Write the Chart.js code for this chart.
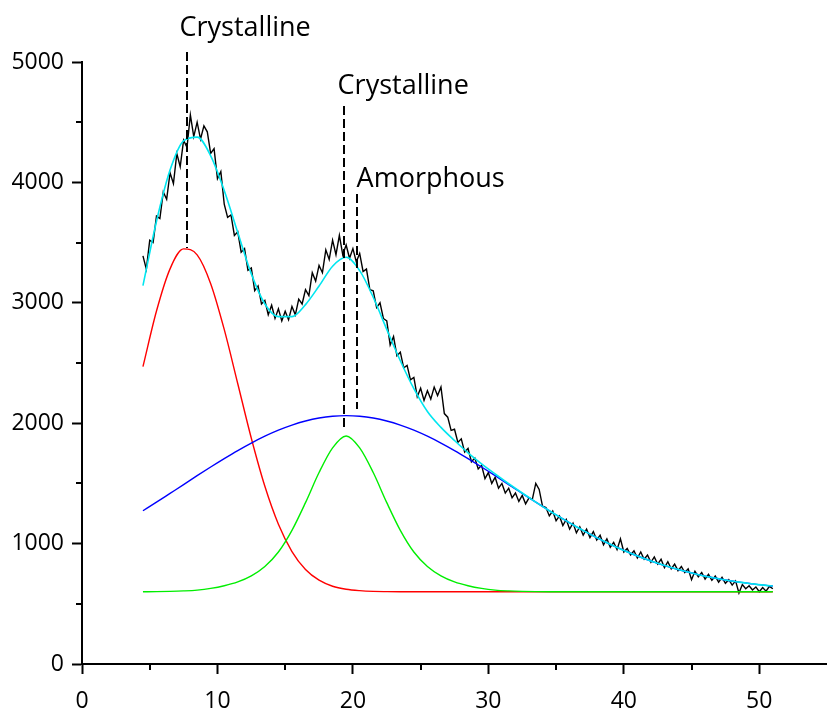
<!DOCTYPE html>
<html lang="en">
  <head>
    <meta charset="UTF-8" />
    <title>XRD peak fit</title>
    <style>
      html, body { margin: 0; padding: 0; background: #fff; }
    </style>
  </head>
  <body>
    <canvas id="myChart" width="827" height="708"></canvas>

    <script src="https://cdn.jsdelivr.net/npm/chart.js@4.4.1/dist/chart.umd.min.js"></script>
    <script>
      // measured pattern: first x, step, then 4 points per unit of x
      const rawStart = 4.5;
      const rawStep = 0.25;
      const rawY = [
        3390, 3280,
        3520, 3500, 3720, 3700,
        3920, 3860, 4080, 3990,
        4240, 4130, 4350, 4290,
        4560, 4380, 4500, 4360,
        4470, 4420, 4240, 4280,
        4030, 4090, 3820, 3710,
        3730, 3560, 3590, 3420,
        3450, 3270, 3290, 3100,
        3140, 2990, 3020, 2900,
        2980, 2870, 2950, 2850,
        2930, 2860, 2970, 2900,
        3030, 2990, 3110, 3060,
        3250, 3180, 3310, 3250,
        3440, 3360, 3520, 3400,
        3560, 3400, 3480, 3370,
        3450, 3340, 3410, 3260,
        3280, 3110, 3100, 2960,
        3000, 2870, 2850, 2650,
        2720, 2560, 2590, 2460,
        2480, 2360, 2380, 2220,
        2290, 2190, 2270, 2200,
        2300, 2230, 2300, 2080,
        2050, 1940, 1950, 1840,
        1870, 1760, 1790, 1680,
        1710, 1620, 1650, 1540,
        1590, 1500, 1550, 1460,
        1500, 1420, 1460, 1380,
        1420, 1350, 1400, 1330,
        1380, 1370, 1500, 1450,
        1310, 1300, 1230, 1270,
        1190, 1230, 1150, 1200,
        1120, 1170, 1090, 1140,
        1070, 1120, 1050, 1100,
        1030, 1070, 990, 1040,
        970, 1010, 950, 1040,
        930, 960, 905, 940,
        880, 930, 870, 905,
        845, 890, 830, 870,
        800, 850, 790, 830,
        775, 810, 760, 790,
        700, 770, 725, 760,
        705, 745, 695, 730,
        680, 720, 670, 700,
        655, 690, 590, 660,
        625, 650, 615, 640,
        600, 635, 605, 645,
        625
      ];

      // fitted curves
      const fitX = [
        4.5, 5.5, 6.5, 7.5, 8.5, 9.5, 10.5, 11.5, 12.5, 13.5, 14.5, 15.5,
        16.5, 17.5, 18.5, 19.5, 20.5, 21.5, 22.5, 23.5, 24.5, 25.5, 26.5, 27.5,
        28.5, 29.5, 30.5, 31.5, 32.5, 33.5, 34.5, 35.5, 36.5, 37.5, 38.5, 39.5,
        40.5, 41.5, 42.5, 43.5, 44.5, 45.5, 46.5, 47.5, 48.5, 49.5, 50.5, 51
      ];
      const peak1 = [
        2470, 2932, 3282, 3448, 3398, 3159, 2779, 2328, 1875, 1476, 1161, 934,
        785, 696, 646, 621, 609, 603, 601, 600, 600, 600, 600, 600,
        600, 600, 600, 600, 600, 600, 600, 600, 600, 600, 600, 600,
        600, 600, 600, 600, 600, 600, 600, 600, 600, 600, 600, 600
      ];
      const peak2 = [
        600, 601, 603, 607, 614, 628, 650, 682, 732, 810, 930, 1110,
        1340, 1590, 1795, 1894, 1795, 1590, 1340, 1110, 930, 810, 732, 682,
        650, 628, 614, 607, 603, 601, 600, 600, 600, 600, 600, 600,
        600, 600, 600, 600, 600, 600, 600, 600, 600, 600, 600, 600
      ];
      const amorph = [
        1273, 1344, 1417, 1490, 1564, 1636, 1706, 1773, 1835, 1892, 1942, 1984,
        2018, 2043, 2058, 2063, 2058, 2043, 2018, 1984, 1942, 1892, 1835, 1773,
        1706, 1636, 1564, 1490, 1417, 1344, 1273, 1205, 1140, 1079, 1021, 968,
        920, 876, 836, 801, 770, 742, 718, 698, 680, 666, 653, 648
      ];
      const total = [
        3143, 3677, 4102, 4345, 4376, 4221, 3933, 3584, 3240, 2990, 2885, 2885,
        2985, 3139, 3304, 3378, 3267, 3046, 2779, 2519, 2287, 2097, 1965, 1856,
        1754, 1662, 1578, 1497, 1420, 1345, 1273, 1205, 1140, 1079, 1021, 968,
        920, 876, 836, 801, 770, 742, 718, 698, 680, 666, 653, 648
      ];

      const xMinor = [5, 15, 25, 35, 45];
      const yMinor = [500, 1500, 2500, 3500, 4500];

      // dashed markers and their labels
      const markX = [7.75, 19.37, 20.28];
      const markTop = [5083, 4635, 3904];
      const markBottom = [3455, 1960, 2118];
      const labelText = ["Crystalline", "Crystalline", "Amorphous"];
      const labelX = [7.2, 18.87, 20.27];
      const labelY = [5213, 4732, 3963];

      const toPoints = (xs, ys) => ys.map((v, i) => ({ x: xs[i], y: v }));
      const rawPoints = rawY.map((v, i) => ({ x: rawStart + i * rawStep, y: v }));

      const minorTicks = {
        id: "minorTicks",
        afterDraw(chart) {
          const { ctx, chartArea, scales } = chart;
          ctx.save();
          ctx.strokeStyle = "#000";
          ctx.lineWidth = 2;
          ctx.beginPath();
          xMinor.forEach((v) => {
            const p = Math.round(scales.x.getPixelForValue(v));
            ctx.moveTo(p, chartArea.bottom);
            ctx.lineTo(p, chartArea.bottom + 6);
          });
          yMinor.forEach((v) => {
            const p = Math.round(scales.y.getPixelForValue(v));
            ctx.moveTo(chartArea.left, p);
            ctx.lineTo(chartArea.left - 6, p);
          });
          ctx.stroke();
          ctx.restore();
        },
      };

      const markers = {
        id: "markers",
        afterDatasetsDraw(chart) {
          const { ctx, scales } = chart;
          ctx.save();
          ctx.strokeStyle = "#000";
          ctx.lineWidth = 2;
          ctx.setLineDash([9, 4]);
          markX.forEach((v, i) => {
            const px = Math.round(scales.x.getPixelForValue(v));
            ctx.beginPath();
            ctx.moveTo(px, scales.y.getPixelForValue(markTop[i]));
            ctx.lineTo(px, scales.y.getPixelForValue(markBottom[i]));
            ctx.stroke();
          });
          ctx.setLineDash([]);
          ctx.fillStyle = "#000";
          ctx.font = '27px "Open Sans"';
          ctx.textAlign = "left";
          ctx.textBaseline = "alphabetic";
          labelText.forEach((t, i) => {
            ctx.fillText(t, scales.x.getPixelForValue(labelX[i]), scales.y.getPixelForValue(labelY[i]));
          });
          ctx.restore();
        },
      };

      const tickFont = { family: "Open Sans", size: 23 };

      const ctx = document.getElementById("myChart").getContext("2d");
      const myChart = new Chart(ctx, {
        type: "line",
        data: {
          datasets: [
            {
              label: "Measured",
              data: rawPoints,
              borderColor: "#000000",
              borderWidth: 1.4,
              pointRadius: 0,
              tension: 0,
              order: 5,
            },
            {
              label: "Crystalline 1",
              data: toPoints(fitX, peak1),
              borderColor: "#ff0000",
              borderWidth: 1.4,
              pointRadius: 0,
              cubicInterpolationMode: "monotone",
              order: 4,
            },
            {
              label: "Crystalline 2",
              data: toPoints(fitX, peak2),
              borderColor: "#00ee00",
              borderWidth: 1.4,
              pointRadius: 0,
              cubicInterpolationMode: "monotone",
              order: 3,
            },
            {
              label: "Amorphous",
              data: toPoints(fitX, amorph),
              borderColor: "#0000ff",
              borderWidth: 1.4,
              pointRadius: 0,
              cubicInterpolationMode: "monotone",
              order: 2,
            },
            {
              label: "Fit",
              data: toPoints(fitX, total),
              borderColor: "#00e6f0",
              borderWidth: 1.6,
              pointRadius: 0,
              cubicInterpolationMode: "monotone",
              order: 1,
            },
          ],
        },
        options: {
          responsive: false,
          animation: false,
          layout: { padding: { top: 62, right: 0, bottom: 0, left: 0 } },
          plugins: {
            legend: { display: false },
            tooltip: { enabled: false },
          },
          scales: {
            x: {
              type: "linear",
              min: 0,
              max: 55,
              border: { display: true, color: "#000", width: 2 },
              grid: {
                drawOnChartArea: false,
                drawTicks: true,
                tickLength: 10,
                tickWidth: 2,
                tickColor: "#000",
              },
              ticks: {
                stepSize: 10,
                includeBounds: false,
                color: "#000",
                font: tickFont,
                padding: 14,
                maxRotation: 0,
                callback: (v) => String(v),
              },
              afterFit(scale) {
                scale.height = 44;
              },
            },
            y: {
              min: 0,
              max: 5000,
              border: { display: true, color: "#000", width: 2 },
              grid: {
                drawOnChartArea: false,
                drawTicks: true,
                tickLength: 10,
                tickWidth: 2,
                tickColor: "#000",
              },
              ticks: {
                stepSize: 1000,
                color: "#000",
                font: tickFont,
                padding: 8,
                callback: (v) => String(v),
              },
              afterFit(scale) {
                scale.width = 82;
              },
            },
          },
        },
        plugins: [minorTicks, markers],
      });
    </script>
  </body>
</html>
